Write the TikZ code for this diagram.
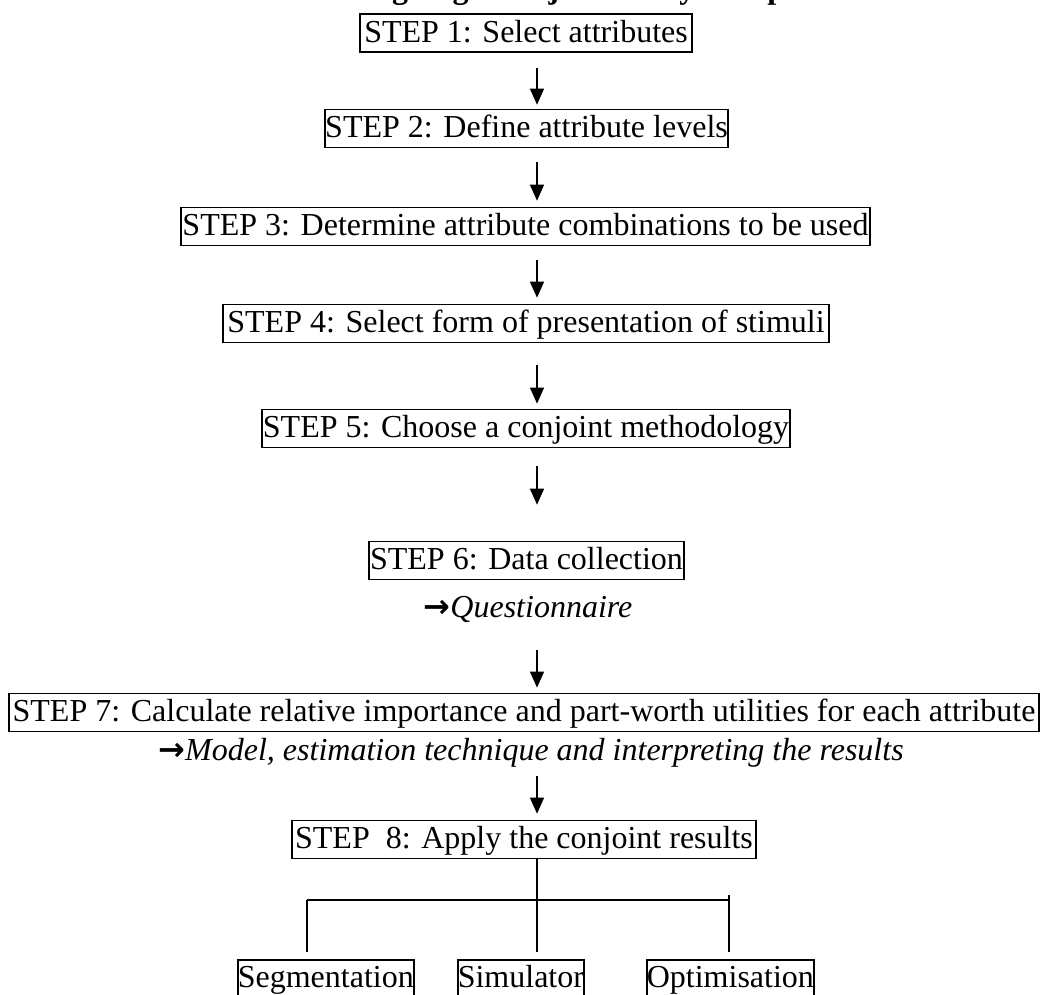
\documentclass[tikz,border=0pt]{standalone}
\usepackage{fontspec}
\setmainfont{Liberation Serif}
\newfontfamily\arrfont{DejaVu Sans}
\usetikzlibrary{arrows.meta}
\newcommand{\wdarrow}{{\arrfont\bfseries →}}
\begin{document}
\begin{tikzpicture}[x=0.375pt,y=-0.375pt,
  font=\fontsize{12pt}{14pt}\selectfont,
  stepbox/.style={draw,line width=0.6pt,inner xsep=0pt,inner ysep=0pt,
    text height=10.5pt,text depth=3.75pt,align=center},
  leafbox/.style={draw,line width=0.6pt,inner xsep=0pt,inner ysep=0pt,
    text height=10.5pt,text depth=3.75pt,anchor=north west},
  arr/.style={line width=0.6pt,-{Triangle[width=5.2pt,length=6pt]}},
  tree/.style={line width=0.55pt}]
\useasboundingbox (0,0) rectangle (1043,994);
\coordinate (spine) at (537,0);
% partly visible title (only its descenders show)
\node[anchor=base west,inner sep=0pt,font=\fontsize{12pt}{14pt}\selectfont\bfseries] (title) at (333,-2) {Designing a conjoint analysis experiment};
% step boxes
\node[stepbox,minimum width=124.5pt] (b1) at (526,33) {STEP 1: Select attributes};
\node[stepbox,minimum width=151.1pt] (b2) at (526.5,128.5) {STEP 2: Define attribute levels};
\node[stepbox,minimum width=258.4pt] (b3) at (525.5,226.5) {STEP 3: Determine attribute combinations to be used};
\node[stepbox,minimum width=227.25pt] (b4) at (526,323.5) {STEP 4: Select form of presentation of stimuli};
\node[stepbox,minimum width=198pt] (b5) at (526,428.5) {STEP 5: Choose a conjoint methodology};
\node[stepbox,minimum width=118.1pt] (b6) at (526.5,560.5) {STEP 6: Data collection};
\node[anchor=base,inner sep=0pt] (q) at (528,617) {\wdarrow\textit{Questionnaire}};
\node[stepbox,minimum width=386.25pt] (b7) at (524,712.5) {STEP 7: Calculate relative importance and part-worth utilities for each attribute};
\node[anchor=base,inner sep=0pt] (m) at (531,760) {\wdarrow\textit{Model, estimation technique and interpreting the results}};
\node[stepbox,minimum width=174pt] (b8) at (524,839.5) {STEP\ \ 8: Apply the conjoint results};
% leaves
\node[leafbox] (seg) at (237,959) {Segmentation};
\node[leafbox] (sim) at (457,959) {Simulator};
\node[leafbox] (opt) at (646,959) {Optimisation};
% arrows
\draw[arr,shorten <=5.6pt,shorten >=1.5pt] (b1.south -| spine) -- (b2.north -| spine);
\draw[arr,shorten <=5.25pt,shorten >=2.25pt] (b2.south -| spine) -- (b3.north -| spine);
\draw[arr,shorten <=5.25pt,shorten >=2.25pt] (b3.south -| spine) -- (b4.north -| spine);
\draw[arr,shorten <=8.25pt,shorten >=1.9pt] (b4.south -| spine) -- (b5.north -| spine);
\draw[arr,shorten <=6.75pt,shorten >=13.5pt] (b5.south -| spine) -- (b6.north -| spine);
\draw[arr,shorten <=12.4pt,shorten >=1.9pt] (q.base -| spine) -- (b7.north -| spine);
\draw[arr,shorten <=6pt,shorten >=2.25pt] (m.base -| spine) -- (b8.north -| spine);
% tree
\coordinate (hl) at (307,900);
\coordinate (hr) at (729,900);
\coordinate (tr) at (729,895);
\draw[tree,shorten >=2.6pt] (b8.south -| spine) -- (sim.north -| spine);
\draw[tree] (hl) -- (hr);
\draw[tree,shorten >=2.6pt] (hl) -- (hl |- seg.north);
\draw[tree,shorten >=2.6pt] (tr) -- (tr |- opt.north);
\end{tikzpicture}
\end{document}
